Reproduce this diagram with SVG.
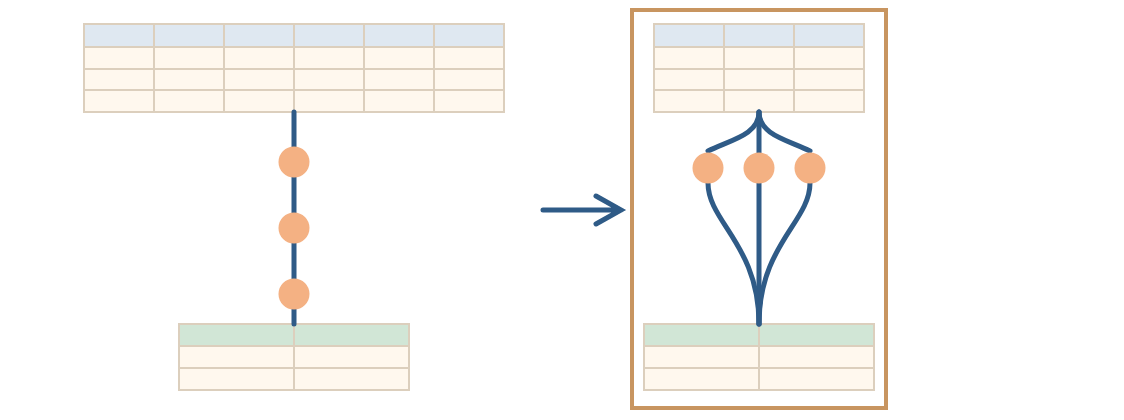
<svg xmlns="http://www.w3.org/2000/svg" width="1124" height="420" viewBox="0 0 1124 420">
<style>
.c{fill:#fff8ee;stroke:#dccfbd;stroke-width:2}
.hb{fill:#dfe8f1;stroke:#dccfbd;stroke-width:2}
.hg{fill:#d1e6d6;stroke:#dccfbd;stroke-width:2}
.l{fill:none;stroke:#2f5b87;stroke-width:5;stroke-linecap:round}
.d{fill:#f4b183}
</style>
<rect width="1124" height="420" fill="#fff"/>
<defs>
<g id="col3"><rect class="hb" x="0" y="0" width="70" height="23"/><rect class="c" x="0" y="23" width="70" height="22"/><rect class="c" x="0" y="45" width="70" height="21"/><rect class="c" x="0" y="66" width="70" height="22"/></g>
<g id="colB"><rect class="hg" x="0" y="0" width="115" height="22"/><rect class="c" x="0" y="22" width="115" height="22"/><rect class="c" x="0" y="44" width="115" height="22"/></g>
</defs>
<g id="left-top-table"><use href="#col3" x="84" y="24"/><use href="#col3" x="154" y="24"/><use href="#col3" x="224" y="24"/><use href="#col3" x="294" y="24"/><use href="#col3" x="364" y="24"/><use href="#col3" x="434" y="24"/></g>
<g id="left-bottom-table"><use href="#colB" x="179" y="324"/><use href="#colB" x="294" y="324"/></g>
<g id="right-frame"><rect x="632" y="10" width="254" height="398" fill="none" stroke="#c89560" stroke-width="4"/></g>
<g id="right-top-table"><use href="#col3" x="654" y="24"/><use href="#col3" x="724" y="24"/><use href="#col3" x="794" y="24"/></g>
<g id="right-bottom-table"><use href="#colB" x="644" y="324"/><use href="#colB" x="759" y="324"/></g>
<g id="connectors">
<path class="l" d="M294,112V324"/>
<path class="l" d="M759,112V324"/>
<path class="l" d="M759,112C759,135 730,140 708,151"/>
<path class="l" d="M759,112C759,135 788,140 810,151"/>
<path class="l" d="M708,183C708,222 759,245 759,324"/>
<path class="l" d="M810,183C810,222 759,245 759,324"/>
<path class="l" d="M543,210H621M596,196L621,210L596,224"/>
</g>
<g id="left-dots"><circle class="d" cx="294" cy="162" r="15.5"/><circle class="d" cx="294" cy="228" r="15.5"/><circle class="d" cx="294" cy="294" r="15.5"/></g>
<g id="right-dots"><circle class="d" cx="708" cy="168" r="15.5"/><circle class="d" cx="759" cy="168" r="15.5"/><circle class="d" cx="810" cy="168" r="15.5"/></g>
</svg>
